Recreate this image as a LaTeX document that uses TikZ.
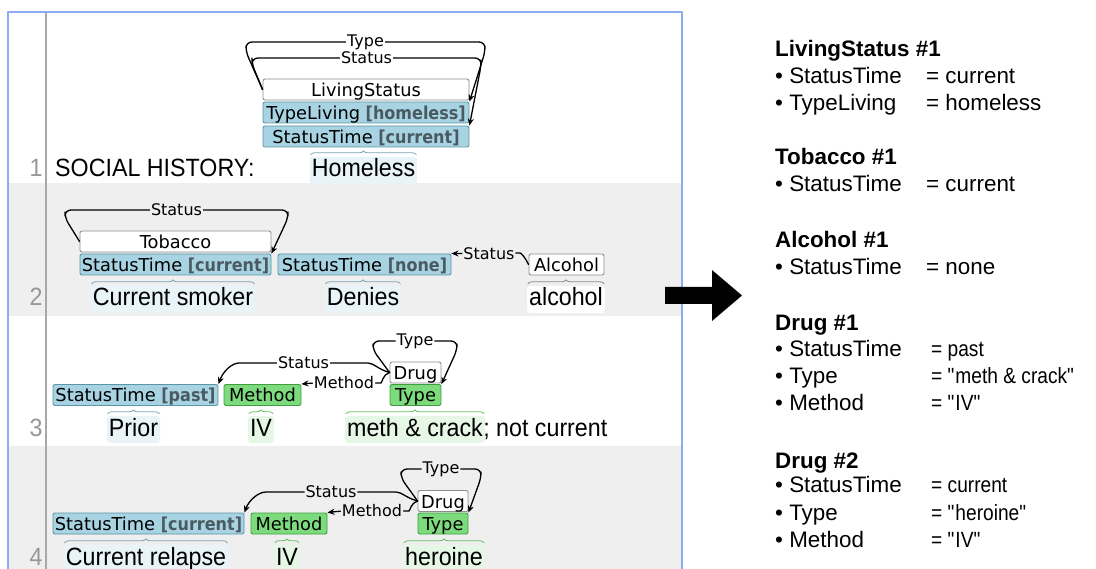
\documentclass[tikz,border=0pt]{standalone}
\usepackage{fontspec}
\setmainfont{Liberation Sans}
\newfontfamily\annfont{DejaVu Sans}
\newfontfamily\attrfont[FakeStretch=0.9]{DejaVu Sans}
\newfontfamily\txtfont[FakeStretch=0.93]{Liberation Sans}
\newfontfamily\valfont[FakeStretch=0.87]{Liberation Sans}
\usetikzlibrary{arrows.meta,decorations.pathreplacing}

\definecolor{rowgray}{HTML}{EFEFEF}
\definecolor{frameblue}{HTML}{8DAAF2}
\definecolor{gutter}{HTML}{A8A8A8}
\definecolor{stfill}{HTML}{A7D3E2}
\definecolor{stline}{HTML}{5A95A8}
\definecolor{mfill}{HTML}{7DDB7D}
\definecolor{mline}{HTML}{3E9E3E}
\definecolor{eline}{HTML}{8C8C8C}
\definecolor{hlblue}{HTML}{E8F4F8}
\definecolor{hlgreen}{HTML}{E6F7E6}
\definecolor{brblue}{HTML}{7AA6B6}
\definecolor{brgreen}{HTML}{62C062}
\definecolor{attrgray}{HTML}{4A5A60}

% attribute value inside a box
\newcommand\attrval[1]{{\attrfont\bfseries\color{attrgray}[#1]}}
% quoted value
\newcommand\qval[1]{\textquotedbl#1\textquotedbl}

\tikzset{
  box/.style={draw, rounded corners=2pt, inner sep=0pt, minimum height=21pt,
    text height=16pt, text depth=2pt, line width=0.9pt,
    font=\annfont\fontsize{17.8}{20}\selectfont},
  ent/.style={box, fill=white, draw=eline},
  attr/.style={box, fill=stfill, draw=stline},
  evt/.style={box, fill=mfill, draw=mline},
  rel/.style={line width=1.3pt, rounded corners=6pt, -{Stealth[length=7pt,width=6pt]}},
  lbl/.style={font=\annfont\fontsize{16}{18}\selectfont, inner sep=1pt, fill=#1},
  lbl/.default=white,
  word/.style={font=\txtfont\fontsize{25}{28}\selectfont, text height=18pt, text depth=5pt,
    inner xsep=2pt, inner ysep=2pt, rounded corners=3pt, anchor=base},
  lineno/.style={font=\txtfont\fontsize{25}{28}\selectfont, text=gutter!90!black, anchor=base},
  span/.style={decorate, decoration={brace, amplitude=4pt}, line width=0.8pt},
  head/.style={font=\bfseries\fontsize{22.4}{26}\selectfont, anchor=base west, inner sep=0pt},
  item/.style={font=\fontsize{22.4}{26}\selectfont, anchor=base west, inner sep=0pt},
  dval/.style={font=\valfont\fontsize{22}{26}\selectfont, anchor=base west, inner sep=0pt}
}

\begin{document}
\begin{tikzpicture}[x=1pt, y=-1pt, line join=round, line cap=round]
  \useasboundingbox (0,0) rectangle (1096,569);
  % rows of the annotation panel
  \fill[rowgray] (8,183) rectangle (682,316);
  \fill[rowgray] (8,446) rectangle (682,569);
  \draw[gutter, line width=1.5pt] (46,12) -- (46,569);
  \draw[frameblue, line width=1.5pt] (8,570) -- (8,12) -- (682,12) -- (682,570);
  % line numbers
  \node[lineno] (n1) at (36,177) {1};
  \node[lineno] (n2) at (36,306) {2};
  \node[lineno] (n3) at (36,436) {3};
  \node[lineno] (n4) at (36,565) {4};

  % ---- line 1
  \node[word, anchor=base west] (soc1) at (53,177) {SOCIAL HISTORY:};
  \node[word, fill=hlblue] (home1) at (363.5,177) {Homeless};
  \node[ent, minimum width=206pt] (ls1) at (366,89.5) {LivingStatus};
  \node[attr, minimum width=206pt] (tl1) at (366,112.5) {TypeLiving \attrval{homeless}};
  \node[attr, minimum width=206pt] (st1) at (366,136.5) {StatusTime \attrval{current}};
  \draw[span, draw=brblue] ([xshift=1pt,yshift=2pt]home1.north west) -- ([xshift=-1pt,yshift=2pt]home1.north east);
  \draw[rel] (ls1.west) -- (246,52) -- (246,42) -- node[lbl]{Type} (485,42) -- (485,52) -- (tl1.north east);
  \draw[rel] (ls1.west) -- (252,64) -- (252,58) -- node[lbl]{Status} (481,58) -- (481,66) -- (st1.north east);

  % ---- line 2
  \node[word, fill=hlblue] (smk2) at (173,306) {Current smoker};
  \node[word, fill=hlblue] (den2) at (363,306) {Denies};
  \node[word, fill=white] (alw2) at (566,306) {alcohol};
  \node[ent, minimum width=191pt] (tob2) at (175.5,241.5) {Tobacco};
  \node[attr, minimum width=191pt] (stc2) at (175.5,264.5) {StatusTime \attrval{current}};
  \node[attr, minimum width=173pt] (stn2) at (364.5,264.5) {StatusTime \attrval{none}};
  \node[ent, minimum width=75pt] (alc2) at (566.5,264.5) {Alcohol};
  \draw[span, draw=brblue] ([xshift=1pt,yshift=2pt]smk2.north west) -- ([xshift=-1pt,yshift=2pt]smk2.north east);
  \draw[span, draw=brblue] ([xshift=1pt,yshift=2pt]den2.north west) -- ([xshift=-1pt,yshift=2pt]den2.north east);
  \draw[span, draw=eline] ([xshift=1pt,yshift=2pt]alw2.north west) -- ([xshift=-1pt,yshift=2pt]alw2.north east);
  \draw[rel] (tob2.west) -- (65,218) -- (65,210) -- node[lbl=rowgray]{Status} (288,210) -- (288,218) -- (stc2.north east);
  \draw[rel] (alc2.west) to[out=115,in=0] (514,253) -- node[lbl=rowgray, pos=0.4]{Status} (stn2.north east);

  % ---- line 3
  \node[word, fill=hlblue] (pri3) at (133.5,436) {Prior};
  \node[word, fill=hlgreen] (iv3) at (261,436) {IV};
  \node[word, fill=hlgreen, anchor=base west] (mc3) at (345,436) {meth \& crack};
  \node[word, anchor=base west, inner xsep=0pt] (nc3) at ([xshift=-2pt]mc3.base east) {; not current};
  \node[attr, minimum width=165pt] (stp3) at (135.5,395) {StatusTime \attrval{past}};
  \node[evt, minimum width=77pt] (meth3) at (262.5,395) {Method};
  \node[ent, minimum width=51pt] (drug3) at (415.5,372.5) {Drug};
  \node[evt, minimum width=51pt] (type3) at (415.5,395) {Type};
  \draw[span, draw=brblue] ([xshift=1pt,yshift=2pt]pri3.north west) -- ([xshift=-1pt,yshift=2pt]pri3.north east);
  \draw[span, draw=brgreen] ([xshift=1pt,yshift=2pt]iv3.north west) -- ([xshift=-1pt,yshift=2pt]iv3.north east);
  \draw[span, draw=brgreen] ([xshift=1pt,yshift=2pt]mc3.north west) -- ([xshift=-1pt,yshift=2pt]mc3.north east);
  \draw[rel] (drug3.west) -- (373,350) -- (373,341) -- node[lbl]{Type} (457,341) -- (457,350) -- (type3.north east);
  \draw[rel] (drug3.west) to[out=165,in=0] (362,363) -- node[lbl]{Status} (245,363) to[out=180,in=70] (stp3.north east);
  \draw[rel] (drug3.west) to[out=195,in=0] (375,383) -- node[lbl]{Method} (313,383) -- (meth3.north east);

  % ---- line 4
  \node[word, fill=hlblue] (rel4) at (146,565) {Current relapse};
  \node[word, fill=hlgreen] (iv4) at (287,565) {IV};
  \node[word, fill=hlgreen] (her4) at (444,565) {heroine};
  \node[attr, minimum width=191pt] (stc4) at (148.5,523.5) {StatusTime \attrval{current}};
  \node[evt, minimum width=76pt] (meth4) at (289,523.5) {Method};
  \node[ent, minimum width=50pt] (drug4) at (443,501) {Drug};
  \node[evt, minimum width=50pt] (type4) at (443,523.5) {Type};
  \draw[span, draw=brblue] ([xshift=1pt,yshift=2pt]rel4.north west) -- ([xshift=-1pt,yshift=2pt]rel4.north east);
  \draw[span, draw=brgreen] ([xshift=1pt,yshift=2pt]iv4.north west) -- ([xshift=-1pt,yshift=2pt]iv4.north east);
  \draw[span, draw=brgreen] ([xshift=1pt,yshift=2pt]her4.north west) -- ([xshift=-1pt,yshift=2pt]her4.north east);
  \draw[rel] (drug4.west) -- (401,478) -- (401,469) -- node[lbl=rowgray]{Type} (481,469) -- (481,478) -- (type4.north east);
  \draw[rel] (drug4.west) to[out=165,in=0] (390,492) -- node[lbl=rowgray]{Status} (272,492) to[out=180,in=70] (stc4.north east);
  \draw[rel] (drug4.west) to[out=195,in=0] (403,511) -- node[lbl=rowgray]{Method} (341,511) -- (meth4.north east);

  % big arrow
  \fill (665,287) -- (712,287) -- (712,270) -- (742,295.5) -- (712,321) -- (712,304) -- (665,304) -- cycle;

  % ---- extracted events
  \node[head] (hls) at (775,57) {LivingStatus \#1};
  \node[item] (kls1) at (775,84) {• StatusTime};
  \node[item] (vls1) at (926,84) {= current};
  \node[item] (kls2) at (775,111) {• TypeLiving};
  \node[item] (vls2) at (926,111) {= homeless};

  \node[head] (htob) at (775,165) {Tobacco \#1};
  \node[item] (ktob1) at (775,192) {• StatusTime};
  \node[item] (vtob1) at (926,192) {= current};

  \node[head] (halc) at (775,248) {Alcohol \#1};
  \node[item] (kalc1) at (775,275) {• StatusTime};
  \node[item] (valc1) at (926,275) {= none};

  \node[head] (hdra) at (775,331) {Drug \#1};
  \node[item] (kdra1) at (775,357) {• StatusTime};
  \node[dval] (vdra1) at (931,357) {= past};
  \node[item] (kdra2) at (775,384) {• Type};
  \node[dval] (vdra2) at (931,384) {= \qval{meth \& crack}};
  \node[item] (kdra3) at (775,411) {• Method};
  \node[dval] (vdra3) at (931,411) {= \qval{IV}};

  \node[head] (hdrb) at (775,468) {Drug \#2};
  \node[item] (kdrb1) at (775,493) {• StatusTime};
  \node[dval] (vdrb1) at (931,493) {= current};
  \node[item] (kdrb2) at (775,520) {• Type};
  \node[dval] (vdrb2) at (931,520) {= \qval{heroine}};
  \node[item] (kdrb3) at (775,547) {• Method};
  \node[dval] (vdrb3) at (931,547) {= \qval{IV}};
\end{tikzpicture}
\end{document}
